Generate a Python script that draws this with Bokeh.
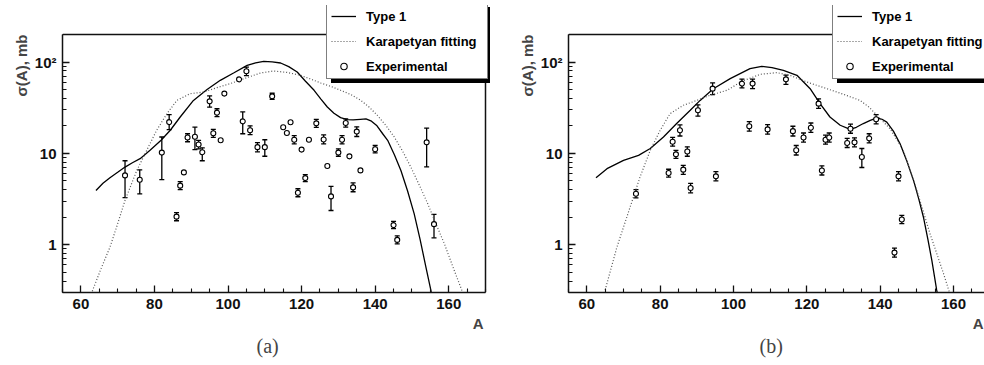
from bokeh.plotting import figure
from bokeh.models import (Range1d, FixedTicker, Whisker, TeeHead, Span,
                          ColumnDataSource, Legend, LegendItem, Title)
from bokeh.layouts import row
from bokeh.embed import file_html
from bokeh.resources import INLINE

# ---------------- axes ----------------
X_MAJOR = [60, 80, 100, 120, 140, 160]
X_MINOR = [55, 65, 70, 75, 85, 90, 95, 105, 110, 115, 125, 130, 135, 145, 150, 155, 165, 170]
Y_MAJOR = [1, 10, 100]
Y_MINOR = [0.3, 0.4, 0.5, 0.6, 0.7, 0.8, 0.9, 2, 3, 4, 5, 6, 7, 8, 9,
           20, 30, 40, 50, 60, 70, 80, 90, 200]
Y_LABELS = {1: "1", 10: "10", 100: "10²"}
X_LIM = (55, 170)
Y_LIM = (0.3, 200)
Y_TITLE = "σ(A), mb"
X_TITLE = "A"
LEGEND_LABELS = ["Type 1", "Karapetyan fitting", "Experimental"]

# ---------------- panel (a) ----------------
a_type1_A = [64.1, 66, 67.9, 70, 72, 74, 76.1, 78.8, 81.8, 84.3, 87, 90.6, 94.3, 97.9,
             101.5, 105.2, 107.5, 109.7, 112, 114.3, 116.5, 118.8, 121, 123.4, 125.2, 127,
             128.8, 130.6, 132.4, 134, 136, 137.5, 139, 140.5, 142, 143.4, 145.2, 147,
             148.8, 150.6, 152.2, 153.8, 155.2, 155.6]
a_type1_s = [3.93, 4.7, 5.42, 6.2, 7.08, 7.9, 8.75, 10.8, 13.9, 17.9, 25, 38, 49.9, 63,
             75.8, 92, 98, 101.8, 100.5, 97.5, 89, 77.7, 62, 49, 39.5, 32.2,
             27.5, 24.6, 23.4, 23.3, 23.6, 23.8, 22.5, 20, 16.5, 13.9, 9.7, 6.5,
             3.9, 2.19, 1.15, 0.57, 0.31, 0.27]
a_kar_A = [63.1, 65.5, 67.9, 70, 72, 75.2, 77.9, 80.6, 83.4, 86.1, 89.7, 93.4, 97, 100.6,
           105.2, 108.8, 112.4, 116, 119.7, 122.5, 125.2, 128, 130.6, 133.4, 136.1, 138.4,
           140.6, 143, 145.2, 147.5, 149.7, 152, 154.3, 156.5, 158.8, 161.3, 163.8, 164.2]
a_kar_s = [0.31, 0.55, 0.94, 1.7, 3.06, 6.5, 10.8, 17.9, 27.2, 38, 45, 46.9, 52.4, 58,
           67.5, 75.8, 79.7, 77, 71.5, 65, 58.9, 54, 49, 44, 38, 32,
           26.1, 20, 15.1, 10.5, 7.08, 4.5, 2.81, 1.7, 1.03, 0.55, 0.30, 0.27]
a_exp_A = [72, 76, 82, 84, 86, 87, 88, 89, 91, 92, 93, 95, 96, 97, 98, 99, 103, 104, 105,
           106, 108, 110, 112, 115, 116, 117, 118, 119, 120, 121, 122, 124, 126, 127, 128,
           130, 131, 132, 133, 134, 135, 136, 140, 145, 146, 154, 156]
a_exp_s = [5.74, 5.15, 10.2, 22, 2.03, 4.43, 6.19, 14.9, 15.2, 12.5, 10.3, 37.1, 16.6, 27.9,
           13.9, 45.1, 64.6, 22.4, 79.1, 17.9, 11.7, 11.7, 42.1, 19.3, 16.7, 21.9, 14.1, 3.71,
           11.0, 5.36, 14.1, 21.3, 14.2, 7.26, 3.38, 10.2, 14.1, 21.5, 9.27, 4.24, 17.3, 6.51,
           11.1, 1.64, 1.13, 13.2, 1.68]
a_exp_lo = [3.28, 3.6, 5.15, 18.2, 1.83, 4.0, 6.19, 13.4, 11.0, 11.2, 8.3, 32, 15, 25.2,
            13.9, 45.1, 64.6, 16.4, 71, 16, 10.4, 9.3, 39, 19.3, 16.7, 21.9, 12.7, 3.35,
            11.0, 4.9, 14.1, 19.3, 12.7, 7.26, 2.37, 9.3, 12.7, 19.4, 9.27, 3.8, 15.3, 6.51,
            10.1, 1.5, 1.02, 7.1, 1.19]
a_exp_hi = [8.3, 6.6, 15.1, 26.5, 2.25, 4.9, 6.19, 16.4, 19.4, 13.9, 11.5, 42.5, 18.3, 30.8,
            13.9, 45.1, 64.6, 28.4, 88, 20, 13.1, 14.1, 45.5, 19.3, 16.7, 21.9, 15.6, 4.1,
            11.0, 5.85, 14.1, 23.5, 15.9, 7.26, 4.35, 11.2, 15.6, 23.8, 9.27, 4.75, 19.5, 6.51,
            12.2, 1.8, 1.25, 18.9, 2.15]

# ---------------- panel (b) ----------------
b_type1_A = [62.5, 65.5, 70, 74.1, 77.3, 80.9, 84.5, 88.2, 90.9, 94.5, 99.1, 104.5, 107.7,
             110.5, 113.6, 117.3, 120.9, 123.6, 126.3, 129.1, 131.8, 133.5, 135.4, 137.3,
             139.1, 140.5, 141.8, 143.6, 145.4, 147.3, 149.1, 150.5, 151.8, 153, 154.1,
             155.4, 155.7]
b_type1_s = [5.42, 6.8, 8.38, 9.5, 11.3, 15.1, 21.2, 29.6, 38, 51, 65.8, 84.7, 89.7,
             87, 81.1, 71.5, 51, 35, 25, 20.3, 18.3, 19.3, 21.2, 23,
             24.4, 23.6, 22, 17.5, 12.8, 8.2, 5.06, 3.2, 2.0, 1.15, 0.67,
             0.32, 0.28]
b_kar_A = [65, 68.2, 71.8, 74.5, 77.3, 80, 82.7, 86.3, 90, 93.6, 98.2, 102.5, 107.3, 111.8,
           115.4, 120, 125.5, 130, 134.5, 137, 139.1, 142.7, 146.3, 150, 153.6, 157.3,
           158.9, 159.2]
b_kar_s = [0.32, 0.94, 2.58, 5.5, 10.8, 17.9, 27.2, 33.6, 38, 43.2, 49, 62, 73.3, 76.5,
           71.5, 60.4, 51, 44.3, 38, 32, 26.1, 18.6, 10.8, 3.93, 1.32, 0.48,
           0.30, 0.27]
b_exp_A = [73.4, 82.3, 83.4, 84.3, 85.4, 86.3, 87.4, 88.3, 90.3, 94.3, 95.2, 102.3, 104.3,
           105.2, 109.3, 114.3, 116.2, 117.1, 119.1, 121.1, 123.2, 124.1, 125.1, 126.1,
           131, 131.9, 133, 135, 137, 138.9, 143.9, 145, 145.9]
b_exp_s = [3.62, 6.09, 13.4, 9.75, 17.9, 6.63, 10.5, 4.17, 29.6, 51.1, 5.6, 58, 19.8,
           58, 18.3, 64.6, 17.5, 10.8, 14.9, 19.1, 35, 6.5, 14.1, 14.9,
           13, 18.6, 13.2, 9.11, 14.6, 23.6, 0.82, 5.6, 1.89]
b_exp_lo = [3.25, 5.5, 12, 8.8, 15.5, 5.9, 9.3, 3.7, 25.5, 44, 5.0, 52, 17.5,
            51, 16.2, 57, 15.5, 9.6, 13.3, 17, 31, 5.8, 12.6, 13.3,
            11.6, 16.6, 11.8, 7.0, 13, 21, 0.73, 5.0, 1.7]
b_exp_hi = [4.0, 6.7, 15, 10.8, 20.5, 7.4, 11.8, 4.7, 34, 59, 6.3, 65, 22.3,
            65, 20.6, 72, 19.8, 12.2, 16.7, 21.5, 39.5, 7.3, 15.8, 16.7,
            14.6, 20.9, 14.8, 11.3, 16.4, 26.5, 0.92, 6.3, 2.1]

FONT = "Liberation Sans"
INK = "#111111"


def style_axis(ax, bounds):
    ax.bounds = bounds
    ax.major_tick_in = 7
    ax.major_tick_out = 0
    ax.minor_tick_in = 4
    ax.minor_tick_out = 0
    ax.axis_line_width = 1.5
    ax.axis_line_color = INK
    ax.major_tick_line_width = 1.3
    ax.minor_tick_line_width = 1.1
    ax.major_tick_line_color = INK
    ax.minor_tick_line_color = INK
    ax.major_label_text_font = FONT
    ax.major_label_text_font_style = "bold"
    ax.major_label_text_font_size = "15px"
    ax.major_label_text_color = INK
    ax.major_label_standoff = 6


def make_legend(items, loc, shadow=False):
    col = "black" if shadow else "white"
    return Legend(items=items, location=loc, orientation="vertical",
                  border_line_color="black", border_line_width=1,
                  background_fill_color=col, background_fill_alpha=1.0,
                  label_text_font=FONT, label_text_font_style="bold",
                  label_text_font_size="13px",
                  label_text_color="black",
                  glyph_width=25, glyph_height=16, label_height=16,
                  label_standoff=10, label_width=117,
                  padding=4, spacing=9, margin=0)


def panel(width, left, xmax, tA, ts, kA, ks, eA, es, elo, ehi, caption,
          right_border, a_off, cap_off):
    # frame spans from y=5 to y=292; data area 200..0.3 spans 34..292
    px_per_dec = 258.0 / 2.8239
    ytop = 0.3 * 10 ** (287.0 / px_per_dec)
    p = figure(width=width, height=365, x_range=Range1d(X_LIM[0], xmax),
               y_range=Range1d(Y_LIM[0], ytop),
               y_axis_type="log", output_backend="svg", toolbar_location=None,
               min_border_left=left, min_border_right=0, min_border_top=5,
               min_border_bottom=73, background_fill_color="white",
               border_fill_color="white", outline_line_color=None)
    p.xgrid.visible = False
    p.ygrid.visible = False
    p.xaxis.ticker = FixedTicker(ticks=X_MAJOR, minor_ticks=X_MINOR)
    p.yaxis.ticker = FixedTicker(ticks=Y_MAJOR, minor_ticks=Y_MINOR)
    p.yaxis.major_label_overrides = Y_LABELS
    style_axis(p.xaxis[0], X_LIM)
    style_axis(p.yaxis[0], Y_LIM)

    p.add_layout(Span(location=Y_LIM[1], dimension="width", line_color=INK, line_width=1.5))
    if right_border:
        p.add_layout(Span(location=X_LIM[1], dimension="height", line_color=INK,
                          line_width=1.5))

    r1 = p.line(tA, ts, line_color="black", line_width=1.3)
    r2 = p.line(kA, ks, line_color="#555555", line_width=1.2, line_dash="1 2")

    ei = [i for i in range(len(eA)) if elo[i] != ehi[i]]
    wsrc = ColumnDataSource(dict(A=[eA[i] for i in ei], lo=[elo[i] for i in ei],
                                 hi=[ehi[i] for i in ei]))
    w = Whisker(source=wsrc, base="A", lower="lo", upper="hi", dimension="height",
                line_color="black", line_width=1.3,
                upper_head=TeeHead(size=5, line_color="black", line_width=1.3),
                lower_head=TeeHead(size=5, line_color="black", line_width=1.3))
    p.add_layout(w)
    r3 = p.scatter(eA, es, marker="circle", size=5, line_color="black", line_width=1.1,
                   fill_color="white")

    rends = [r1, r2, r3]
    sh_items = [LegendItem(label=" ", renderers=[r]) for r in rends]
    items = [LegendItem(label=l, renderers=[r]) for l, r in zip(LEGEND_LABELS, rends)]
    p.add_layout(make_legend(sh_items, (269, 209), shadow=True))
    p.add_layout(make_legend(items, (264, 213)))

    p.add_layout(Title(text=Y_TITLE, align="right", text_font=FONT, text_font_style="bold",
                       text_font_size="15px", standoff=4, offset=29), "left")
    p.add_layout(Title(text=X_TITLE, align="right", text_font=FONT, text_font_style="bold",
                       text_font_size="15px", standoff=2, offset=a_off), "below")
    p.add_layout(Title(text=caption, align="left", text_font="Liberation Serif",
                       text_font_style="normal", text_font_size="20px", standoff=0,
                       offset=cap_off), "below")
    return p


pa = panel(490, 62, 55 + 428 * 115.0 / 423.0, a_type1_A, a_type1_s, a_kar_A, a_kar_s,
           a_exp_A, a_exp_s, a_exp_lo, a_exp_hi, "(a)", True, 7, 194)
pb = panel(494, 78, 168.45, b_type1_A, b_type1_s, b_kar_A, b_kar_s,
           b_exp_A, b_exp_s, b_exp_lo, b_exp_hi, "(b)", False, 1, 191)

layout = row(pa, pb)
open("out.html", "w").write(file_html(layout, INLINE))
